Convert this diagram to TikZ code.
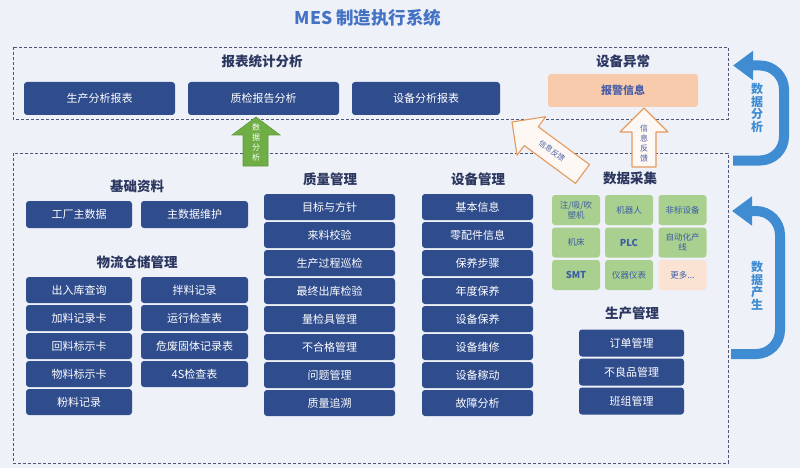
\documentclass[tikz,border=0pt]{standalone}
\usepackage{fontspec}
\setmainfont{Noto Sans CJK SC}
\usetikzlibrary{arrows.meta}
\definecolor{bgcol}{HTML}{EEF1F7}
\definecolor{boxblue}{HTML}{2F4C8D}
\definecolor{navy}{HTML}{2B3760}
\definecolor{titleblue}{HTML}{4472C4}
\definecolor{dashgray}{HTML}{4A5673}
\definecolor{cellgreen}{HTML}{A9D08E}
\definecolor{cellblue}{HTML}{3B5CA8}
\definecolor{peach}{HTML}{F8CBAD}
\definecolor{lightpeach}{HTML}{FBE3D3}
\definecolor{alarmblue}{HTML}{4A5EA8}
\definecolor{arrowgreen}{HTML}{6FAD45}
\definecolor{greenedge}{HTML}{5E9A3A}
\definecolor{arroworange}{HTML}{E39A5E}
\definecolor{arrowfill}{HTML}{FDF8F3}
\definecolor{flowblue}{HTML}{3F8CD2}
\begin{document}
\begin{tikzpicture}
          [x=1pt, y=-1pt,
          box/.style={fill=boxblue, text=white, rounded corners=3pt, inner sep=0pt,
            minimum width=106pt, minimum height=26pt, font=\fontsize{11}{13}\selectfont},
          heading/.style={text=navy, font=\fontsize{13.5}{16}\selectfont\bfseries},
          cell/.style={fill=cellgreen, text=cellblue, rounded corners=3pt, inner sep=0pt, align=center,
            minimum width=48pt, minimum height=30pt, font=\fontsize{8.5}{10}\selectfont},
          panel/.style={draw=dashgray, line width=0.8pt, dash pattern=on 3pt off 2pt},
          loop/.style={draw=flowblue, line width=10pt, rounded corners=24pt, -{Triangle[width=28pt,length=20pt]}},
          vtext/.style={align=center, inner sep=0pt},
          hollow/.style={draw=arroworange, fill=arrowfill, line width=1.1pt, line join=round}]

            \fill [bgcol] (0,0) rectangle (800,468);

            \node (title) [text=titleblue, font=\fontsize{17.5}{20}\selectfont\bfseries] at (368,18) {MES 制造执行系统};

            \draw [panel] (13,47) rectangle (728,119);
            \draw [panel] (13,153) rectangle (728,463);

            \node (stat) [heading] at (262,61) {报表统计分析};
            \node (r1) [box, minimum width=151pt, minimum height=33pt] at (99.5,98.5) {生产分析报表};
            \node (r2) [box, minimum width=151pt, minimum height=33pt] at (263.5,98.5) {质检报告分析};
            \node (r3) [box, minimum width=148pt, minimum height=33pt] at (426,98.5) {设备分析报表};

            \node (abn) [heading] at (623,61) {设备异常};
            \node (alarm) [box, fill=peach, text=alarmblue, minimum width=150pt, minimum height=33pt,
              font=\fontsize{11}{13}\selectfont\bfseries] at (623,90.5) {报警信息};

            \node (base) [heading] at (137,186) {基础资料};
            \node (b1) [box, minimum height=27pt] at (79,214.5) {工厂主数据};
            \node (b2) [box, minimum width=107pt, minimum height=27pt] at (194.5,214.5) {主数据维护};

            \node (store) [heading] at (137,262) {物流仓储管理};
            \node (s1) [box] at (79,290) {出入库查询};
            \node (s2) [box] at (79,318) {加料记录卡};
            \node (s3) [box] at (79,346) {回料标示卡};
            \node (s4) [box] at (79,374) {物料标示卡};
            \node (s5) [box] at (79,402) {粉料记录};
            \node (s6) [box, minimum width=107pt] at (194.5,290) {拌料记录};
            \node (s7) [box, minimum width=107pt] at (194.5,318) {运行检查表};
            \node (s8) [box, minimum width=107pt] at (194.5,346) {危废固体记录表};
            \node (s9) [box, minimum width=107pt] at (194.5,374) {4S检查表};

            \node (qual) [heading] at (330,179) {质量管理};
            \node (q1) [box, minimum width=131pt] at (329.5,207) {目标与方针};
            \node (q2) [box, minimum width=131pt] at (329.5,235) {来料校验};
            \node (q3) [box, minimum width=131pt] at (329.5,263) {生产过程巡检};
            \node (q4) [box, minimum width=131pt] at (329.5,291) {最终出库检验};
            \node (q5) [box, minimum width=131pt] at (329.5,319) {量检具管理};
            \node (q6) [box, minimum width=131pt] at (329.5,347) {不合格管理};
            \node (q7) [box, minimum width=131pt] at (329.5,375) {问题管理};
            \node (q8) [box, minimum width=131pt] at (329.5,403) {质量追溯};

            \node (equip) [heading] at (478,179) {设备管理};
            \node (e1) [box, minimum width=111pt] at (477.5,207) {基本信息};
            \node (e2) [box, minimum width=111pt] at (477.5,235) {零配件信息};
            \node (e3) [box, minimum width=111pt] at (477.5,263) {保养步骤};
            \node (e4) [box, minimum width=111pt] at (477.5,291) {年度保养};
            \node (e5) [box, minimum width=111pt] at (477.5,319) {设备保养};
            \node (e6) [box, minimum width=111pt] at (477.5,347) {设备维修};
            \node (e7) [box, minimum width=111pt] at (477.5,375) {设备稼动};
            \node (e8) [box, minimum width=111pt] at (477.5,403) {故障分析};

            \node (collect) [heading] at (630,178) {数据采集};
            \node (c1) [cell] at (576,210) {注/吸/吹\\塑机};
            \node (c2) [cell] at (629,210) {机器人};
            \node (c3) [cell] at (682.5,210) {非标设备};
            \node (c4) [cell] at (576,242.5) {机床};
            \node (c5) [cell, font=\fontsize{9.5}{11}\selectfont\bfseries] at (629,242.5) {PLC};
            \node (c6) [cell] at (682.5,242.5) {自动化产\\线};
            \node (c7) [cell, font=\fontsize{9.5}{11}\selectfont\bfseries] at (576,275) {SMT};
            \node (c8) [cell] at (629,275) {仪器仪表};
            \node (c9) [cell, fill=lightpeach] at (682.5,275) {更多...};

            \node (prod) [heading] at (632,313) {生产管理};
            \node (p1) [box, minimum width=105pt, minimum height=27pt] at (631.5,343) {订单管理};
            \node (p2) [box, minimum width=105pt, minimum height=27pt] at (631.5,372) {不良品管理};
            \node (p3) [box, minimum width=105pt, minimum height=27pt] at (631.5,401) {班组管理};

            % block arrows
            \draw [fill=arrowgreen, draw=greenedge, line width=0.6pt]
              (243,166) -- (243,135) -- (232,135) -- (256,117) -- (280,135) -- (268,135) -- (268,166) -- cycle;
            \node (ana) [vtext, text=white, font=\fontsize{8}{10}\selectfont] at (256,142) {数\\据\\分\\析};

            \draw [hollow] (589.5,164.6) -- (538.3,126.8) -- (545.6,116.7) -- (512,122)
              -- (517,155.3) -- (524.3,145.6) -- (575.5,183.4) -- cycle;
            \node (fb1) [text=alarmblue, font=\fontsize{7.5}{9}\selectfont, rotate=-36.4] at (552,151) {信息反馈};

            \draw [hollow] (632,167) -- (632,132) -- (620,132) -- (644,108) -- (668,132) -- (656,132) -- (656,167) -- cycle;
            \node (fb2) [vtext, text=alarmblue, font=\fontsize{8}{10}\selectfont] at (644,143) {信\\息\\反\\馈};

            % loops on the right
            \coordinate (u1) at (733,160.5);
            \coordinate (u2) at (733,65.5);
            \coordinate (d1) at (731,354);
            \coordinate (d2) at (732,211);
            \draw [loop] (u1) -- ++(51,0) |- (u2);
            \draw [loop] (d1) -- ++(49,0) |- (d2);
            \node (t1) [vtext, text=flowblue, font=\fontsize{12}{12.5}\selectfont\bfseries] at (757,108) {数\\据\\分\\析};
            \node (t2) [vtext, text=flowblue, font=\fontsize{12}{12.5}\selectfont\bfseries] at (757,286) {数\\据\\产\\生};

        \end{tikzpicture}
\end{document}
